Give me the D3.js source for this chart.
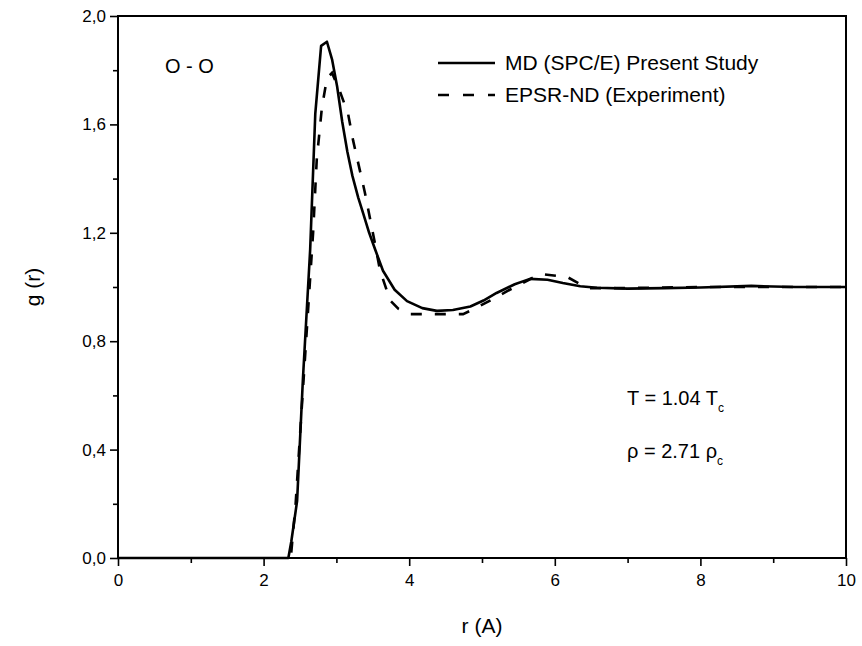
<!DOCTYPE html>
<html>
<head>
<meta charset="utf-8">
<script src="https://cdn.jsdelivr.net/npm/d3@7"></script>
<style>
  body { margin: 0; background: #fff; }
  text { font-family: "Liberation Sans", Arial, sans-serif; fill: #000; }
</style>
</head>
<body>
<div id="chart"></div>
<script>
const width = 862;
const height = 646;
const margin = { top: 16, right: 16, bottom: 88, left: 118 };

// MD (SPC/E) present study
const mdR = [0, 2.34, 2.38, 2.46, 2.54, 2.64, 2.71, 2.79, 2.87, 2.94, 3.01, 3.08, 3.15, 3.22, 3.3, 3.37, 3.45, 3.53, 3.64, 3.8, 3.97, 4.18, 4.38, 4.6, 4.84, 5.02, 5.2, 5.45, 5.66, 5.9, 6.11, 6.35, 6.58, 7.0, 7.5, 8.0, 8.7, 9.3, 10];
const mdG = [0, 0, 0.06, 0.21, 0.66, 1.14, 1.64, 1.89, 1.905, 1.84, 1.74, 1.61, 1.50, 1.41, 1.33, 1.27, 1.20, 1.14, 1.06, 0.99, 0.948, 0.922, 0.912, 0.915, 0.928, 0.95, 0.978, 1.01, 1.03, 1.027, 1.015, 1.003, 0.997, 0.994, 0.996, 0.998, 1.004, 1.0, 1.0];

// EPSR-ND (experiment)
const epR = [2.38, 2.44, 2.54, 2.68, 2.73, 2.80, 2.87, 2.94, 3.05, 3.16, 3.23, 3.39, 3.53, 3.6, 3.74, 3.85, 4.01, 4.4, 4.74, 4.9, 5.11, 5.45, 5.8, 6.17, 6.45, 6.94, 7.5, 8.0, 9.0, 10];
const epG = [0.02, 0.2, 0.62, 1.2, 1.47, 1.66, 1.77, 1.79, 1.72, 1.64, 1.54, 1.35, 1.16, 1.06, 0.95, 0.92, 0.90, 0.90, 0.90, 0.92, 0.95, 1.0, 1.048, 1.037, 0.996, 0.996, 0.998, 1.0, 1.0, 1.0];

const xTicks = [0, 2, 4, 6, 8, 10];
const xMinor = [1, 3, 5, 7, 9];
const yTicks = [0, 0.4, 0.8, 1.2, 1.6, 2.0];
const yMinor = [0.2, 0.6, 1.0, 1.4, 1.8];

const legendLabels = ["MD (SPC/E) Present Study", "EPSR-ND (Experiment)"];

const svg = d3.select("#chart").append("svg")
  .attr("width", width)
  .attr("height", height);

const x = d3.scaleLinear().domain([0, 10]).range([margin.left, width - margin.right]);
const y = d3.scaleLinear().domain([0, 2]).range([height - margin.bottom, margin.top]);

const fmt = d => d3.format(".1f")(d).replace(".", ",");

// axes
const xAxis = svg.append("g")
  .attr("transform", `translate(0,${y(0)})`)
  .call(d3.axisBottom(x).tickValues(xTicks).tickSize(8).tickPadding(5).tickFormat(d3.format("d")));
svg.append("g")
  .attr("transform", `translate(0,${y(0)})`)
  .call(d3.axisBottom(x).tickValues(xMinor).tickSize(5).tickFormat(""));

const yAxis = svg.append("g")
  .attr("transform", `translate(${x(0)},0)`)
  .call(d3.axisLeft(y).tickValues(yTicks).tickSize(8).tickPadding(4).tickFormat(fmt));
svg.append("g")
  .attr("transform", `translate(${x(0)},0)`)
  .call(d3.axisLeft(y).tickValues(yMinor).tickSize(5).tickFormat(""));

svg.selectAll(".domain").remove();
svg.selectAll(".tick line").attr("stroke", "#000").attr("stroke-width", 1.6);
svg.selectAll(".tick text").style("font-size", "17px").attr("fill", "#000");
xAxis.selectAll(".tick text").attr("dy", "0.9em");

// frame
svg.append("rect")
  .attr("x", x(0))
  .attr("y", y(2))
  .attr("width", x(10) - x(0))
  .attr("height", y(0) - y(2))
  .attr("fill", "none")
  .attr("stroke", "#000")
  .attr("stroke-width", 2);

// curves
const line = d3.line()
  .x(d => x(d[0]))
  .y(d => y(d[1]));

svg.append("path")
  .datum(mdR.map((r, i) => [r, mdG[i]]))
  .attr("d", line)
  .attr("fill", "none")
  .attr("stroke", "#000")
  .attr("stroke-width", 2.6)
  .attr("stroke-linejoin", "round");

svg.append("path")
  .datum(epR.map((r, i) => [r, epG[i]]))
  .attr("d", line)
  .attr("fill", "none")
  .attr("stroke", "#000")
  .attr("stroke-width", 2.6)
  .attr("stroke-dasharray", "11,13");

// axis titles
svg.append("text")
  .attr("x", (x(0) + x(10)) / 2)
  .attr("y", 633)
  .attr("text-anchor", "middle")
  .style("font-size", "21px")
  .text("r (A)");

svg.append("text")
  .attr("transform", `translate(40,${(y(0) + y(2)) / 2}) rotate(-90)`)
  .attr("text-anchor", "middle")
  .style("font-size", "21px")
  .text("g (r)");

// legend
const legend = svg.append("g");
legendLabels.forEach((lab, i) => {
  const ly = 63 + i * 32;
  legend.append("line")
    .attr("x1", 438).attr("x2", 495)
    .attr("y1", ly).attr("y2", ly)
    .attr("stroke", "#000")
    .attr("stroke-width", 2.6)
    .attr("stroke-dasharray", i === 0 ? null : "11,14");
  legend.append("text")
    .attr("x", 505)
    .attr("y", ly + 7)
    .style("font-size", "21px")
    .text(lab);
});

// annotations
svg.append("text")
  .attr("x", 165).attr("y", 73)
  .style("font-size", "20px")
  .text("O - O");

const t1 = svg.append("text").attr("x", 627).attr("y", 405).style("font-size", "20px");
t1.append("tspan").text("T = 1.04 T");
t1.append("tspan").attr("dy", 7).style("font-size", "12px").text("c");

const t2 = svg.append("text").attr("x", 627).attr("y", 458).style("font-size", "20px");
t2.append("tspan").text("ρ = 2.71 ρ");
t2.append("tspan").attr("dy", 7).style("font-size", "12px").text("c");
</script>
</body>
</html>
